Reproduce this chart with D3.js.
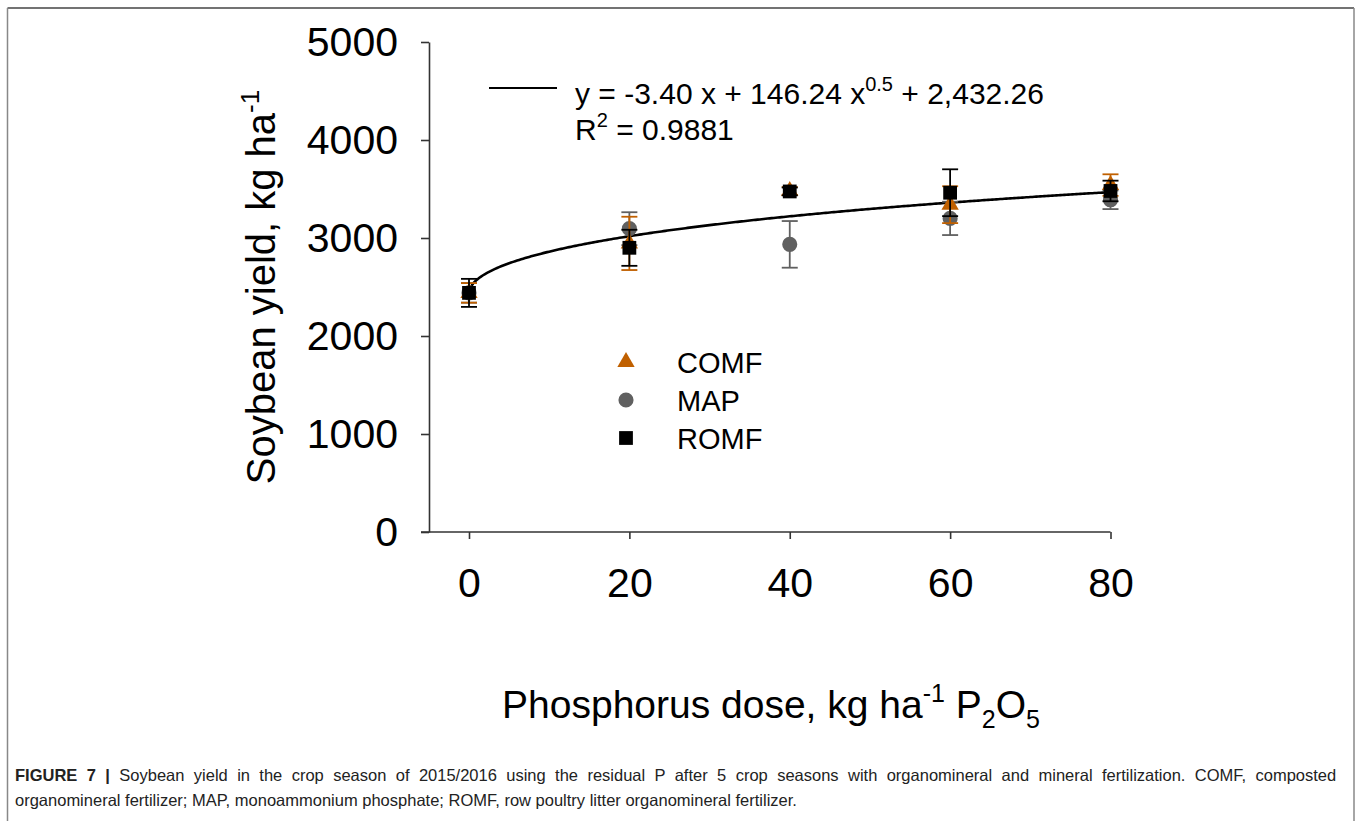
<!DOCTYPE html>
<html>
<head>
<meta charset="utf-8">
<script src="https://cdn.jsdelivr.net/npm/d3@7"></script>
<style>
  body { margin: 0; background: #fff; }
  text { font-family: "Liberation Sans", Arial, sans-serif; }
  .axis path, .axis line { stroke: #333; stroke-width: 1.6; }
  .axis text { font-size: 41px; fill: #000; }
</style>
</head>
<body>
<div class="container"></div>
<script>
const WIDTH = 1357;
const HEIGHT = 821;

// data
const doses = [0, 20, 40, 60, 80];
const comf = [2440, 2945, 3480, 3340, 3540];
const comfErr = [100, 272, 40, 188, 110];
const map = [2440, 3095, 2935, 3200, 3390];
const mapErr = [100, 168, 238, 170, 95];
const romf = [2440, 2900, 3475, 3462, 3480];
const romfErr = [143, 184, 40, 239, 105];
const yTicks = [0, 1000, 2000, 3000, 4000, 5000];
const xTicks = [0, 20, 40, 60, 80];
// fitted model shown in the figure: y = a x + b x^0.5 + c
const fitCoef = [-3.40, 146.24, 2432.26];

var translate = function (x, y) {
    return "translate(" + x + "," + y + ")";
};

var svg = d3.select('.container').append('svg')
    .attr('width', WIDTH)
    .attr('height', HEIGHT);

// page frame
svg.append('line').attr('x1', 7.5).attr('y1', 8).attr('x2', 1354).attr('y2', 8)
    .attr('stroke', '#444').attr('stroke-width', 1.5);
svg.append('line').attr('x1', 7.5).attr('y1', 8).attr('x2', 7.5).attr('y2', HEIGHT)
    .attr('stroke', '#888').attr('stroke-width', 1.5);
svg.append('line').attr('x1', 1354).attr('y1', 8).attr('x2', 1354).attr('y2', HEIGHT)
    .attr('stroke', '#888').attr('stroke-width', 1.5);

var xScale = d3.scaleLinear().domain([0, 80]).range([469, 1110.5]);
var yScale = d3.scaleLinear().domain([0, 5000]).range([532, 42]);

var xAxis = d3.axisBottom(xScale).tickValues(xTicks).tickSize(7).tickPadding(29)
    .tickSizeOuter(0).tickFormat(d3.format('d'));
var yAxis = d3.axisLeft(yScale).tickValues(yTicks).tickSize(8).tickPadding(23)
    .tickSizeOuter(0).tickFormat(d3.format('d'));

svg.append('g')
    .classed('axis', true)
    .attr('transform', translate(0, 532))
    .call(xAxis)
    .call(g => g.select('.domain').attr('d', 'M421,0H1110.5'));

svg.append('g')
    .classed('axis', true)
    .attr('transform', translate(429, 0))
    .call(yAxis)
    .call(g => g.select('.domain').attr('stroke', '#000'));

// axis titles
var yTitle = svg.append('text')
    .attr('transform', translate(275, 287) + ' rotate(-90)')
    .attr('text-anchor', 'middle')
    .style('font-size', '40px');
yTitle.append('tspan').text('Soybean yield, kg ha');
yTitle.append('tspan').attr('dy', -16).style('font-size', '26px').text('-1');

var xTitle = svg.append('text')
    .attr('x', 771).attr('y', 718)
    .attr('text-anchor', 'middle')
    .style('font-size', '39px');
xTitle.append('tspan').text('Phosphorus dose, kg ha');
xTitle.append('tspan').attr('dy', -16).style('font-size', '25px').text('-1');
xTitle.append('tspan').attr('dy', 16).text(' P');
xTitle.append('tspan').attr('dy', 10).style('font-size', '25px').text('2');
xTitle.append('tspan').attr('dy', -10).text('O');
xTitle.append('tspan').attr('dy', 10).style('font-size', '25px').text('5');

// fitted curve
var fit = function (x) {
    return fitCoef[0] * x + fitCoef[1] * Math.sqrt(x) + fitCoef[2];
};
var fitLine = d3.line()
    .x(function (d) { return xScale(d); })
    .y(function (d) { return yScale(fit(d)); });
svg.append('path')
    .attr('d', fitLine(d3.range(0, 80.01, 0.25)))
    .attr('fill', 'none')
    .attr('stroke', '#000')
    .attr('stroke-width', 2.6);

// series
var series = [
    { name: 'MAP', values: map, errs: mapErr, color: '#606060', shape: d3.symbolCircle, size: 180 },
    { name: 'COMF', values: comf, errs: comfErr, color: '#c06000', shape: d3.symbolTriangle, size: 130 },
    { name: 'ROMF', values: romf, errs: romfErr, color: '#000000', shape: d3.symbolSquare, size: 190 }
];

series.forEach(function (s) {
    var g = svg.append('g');
    doses.forEach(function (dose, i) {
        var cx = xScale(dose);
        var top = yScale(s.values[i] + s.errs[i]);
        var bot = yScale(s.values[i] - s.errs[i]);
        g.append('line').attr('x1', cx).attr('x2', cx).attr('y1', top).attr('y2', bot)
            .attr('stroke', s.color).attr('stroke-width', 1.8);
        [top, bot].forEach(function (yy) {
            g.append('line').attr('x1', cx - 8).attr('x2', cx + 8).attr('y1', yy).attr('y2', yy)
                .attr('stroke', s.color).attr('stroke-width', 1.8);
        });
    });
    g.selectAll('path.pt')
        .data(doses)
        .enter()
        .append('path')
        .attr('transform', function (d, i) { return translate(xScale(d), yScale(s.values[i])); })
        .attr('d', d3.symbol().type(s.shape).size(s.size))
        .attr('fill', s.color);
});

// equation legend
svg.append('line').attr('x1', 489).attr('x2', 557).attr('y1', 88).attr('y2', 88)
    .attr('stroke', '#000').attr('stroke-width', 2);
var eq = svg.append('text').attr('x', 575).attr('y', 104).style('font-size', '30px');
eq.append('tspan').text('y = -3.40 x + 146.24 x');
eq.append('tspan').attr('dy', -13).style('font-size', '20px').text('0.5');
eq.append('tspan').attr('dy', 13).text(' + 2,432.26');
var r2 = svg.append('text').attr('x', 575).attr('y', 140).style('font-size', '30px');
r2.append('tspan').text('R');
r2.append('tspan').attr('dy', -13).style('font-size', '20px').text('2');
r2.append('tspan').attr('dy', 13).text(' = 0.9881');

// symbol legend
var legendOrder = ['COMF', 'MAP', 'ROMF'];
var legendY = d3.scalePoint().domain(legendOrder).range([362, 438]);
legendOrder.forEach(function (name) {
    var s = series.find(function (d) { return d.name === name; });
    svg.append('path')
        .attr('transform', translate(626, legendY(name)))
        .attr('d', d3.symbol().type(s.shape).size(s.size))
        .attr('fill', s.color);
    svg.append('text')
        .attr('x', 677).attr('y', legendY(name) + 11)
        .style('font-size', '29px')
        .text(name);
});

// caption (first line justified by wider word spacing)
var cap1 = svg.append('text').attr('x', 15).attr('y', 781)
    .style('font-size', '16.5px').style('word-spacing', '4.8px').attr('fill', '#222');
cap1.append('tspan').style('font-weight', 'bold').text('FIGURE 7 |');
cap1.append('tspan').text(' Soybean yield in the crop season of 2015/2016 using the residual P after 5 crop seasons with organomineral and mineral fertilization. COMF, composted');
svg.append('text').attr('x', 15).attr('y', 806)
    .style('font-size', '16.5px').attr('fill', '#222')
    .text('organomineral fertilizer; MAP, monoammonium phosphate; ROMF, row poultry litter organomineral fertilizer.');
</script>
</body>
</html>
